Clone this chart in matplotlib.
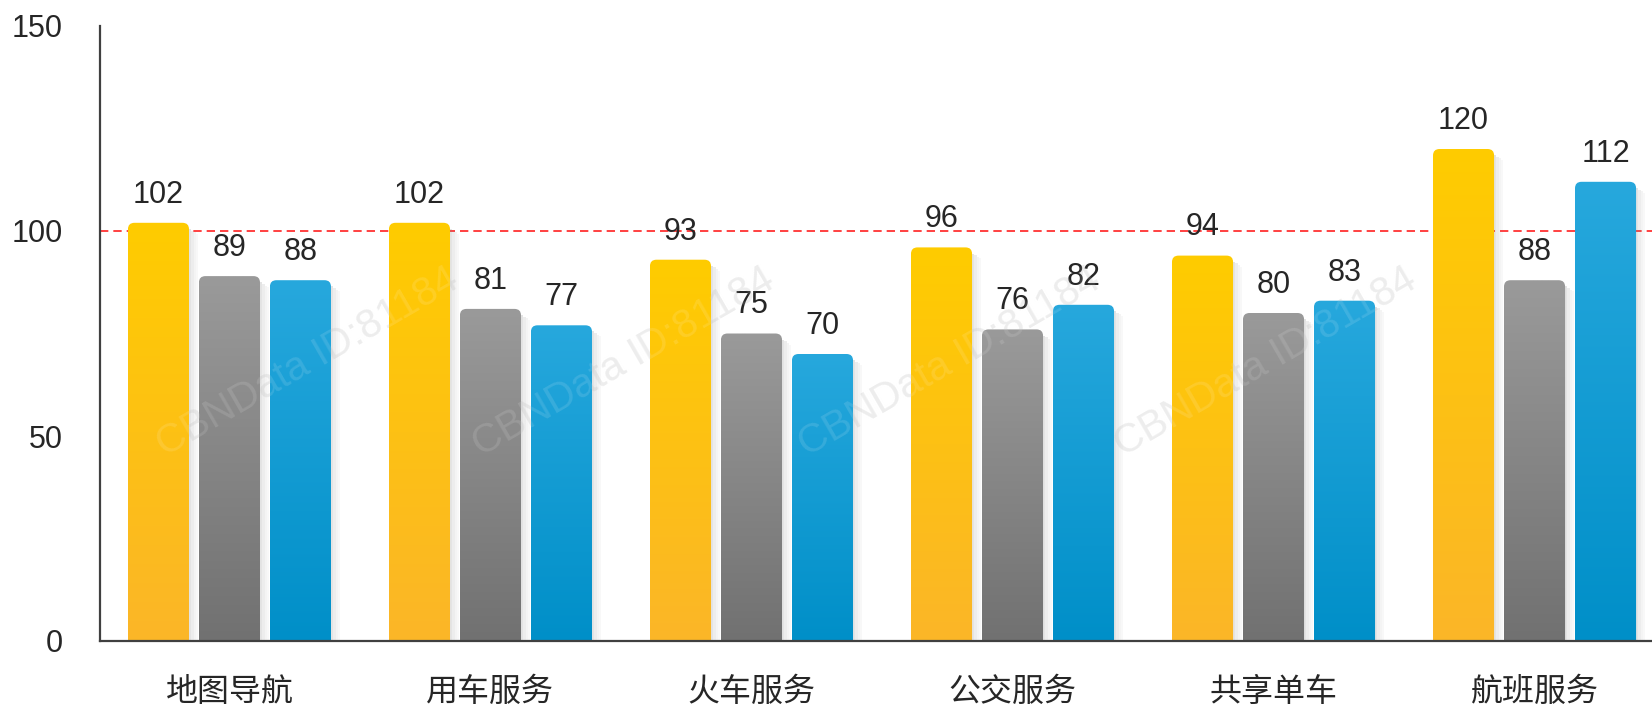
import numpy as np
import matplotlib
matplotlib.use("Agg")
import matplotlib.pyplot as plt
from matplotlib.patches import FancyBboxPatch, Rectangle
from matplotlib.colors import LinearSegmentedColormap

categories = ["地图导航", "用车服务", "火车服务", "公交服务", "共享单车", "航班服务"]
series_a = [102, 102, 93, 96, 94, 120]   # yellow
series_b = [89, 81, 75, 76, 80, 88]      # gray
series_c = [88, 77, 70, 82, 83, 112]     # blue
ref_value = 100
y_ticks = [0, 50, 100, 150]

# gradient (top, bottom) for each series
grads = [("#FFCC00", "#FBB628"), ("#9A9A9A", "#717171"), ("#27A8DD", "#008FC8")]

plt.rcParams["font.family"] = ["Liberation Sans", "Noto Sans CJK SC", "DejaVu Sans"]

fig = plt.figure(figsize=(16.52, 7.05), dpi=100)
ax = fig.add_axes([100 / 1652, 64 / 705, 1 - 100 / 1652, (641 - 26) / 705])

# watermark (only the copies that sit fully inside the picture)
wm_x = [169, 485, 811, 1127]
wm_y = 464
for xx in wm_x:
    fig.text(xx / 1652, 1 - wm_y / 705, "CBNData ID:81184", fontsize=29,
             color="#ebebeb", rotation=30, rotation_mode="anchor",
             ha="left", va="bottom", zorder=-1)
    fig.text(xx / 1652, 1 - wm_y / 705, "CBNData ID:81184", fontsize=29,
             color="white", alpha=0.12, rotation=30, rotation_mode="anchor",
             ha="left", va="bottom", zorder=5)

x = np.arange(len(categories))
width = 0.234
offset = 0.272
ax.set_xlim(-0.496, 5.45)
ax.set_ylim(0, 150)

ax.axhline(ref_value, color="#FF2020", lw=1.2, ls=(0, (5, 3)), zorder=1)

aspect = (150 / 615) / (1 / 261)
for i, vals in enumerate([series_a, series_b, series_c]):
    bars = ax.bar(x + (i - 1) * offset, vals, width, color="none", zorder=2)
    cmap = LinearSegmentedColormap.from_list("g%d" % i, [grads[i][1], grads[i][0]])
    for b, v in zip(bars, vals):
        x0, w, h = b.get_x(), b.get_width(), b.get_height()
        # soft shadow on the right
        for k, a in enumerate([0.22, 0.15, 0.09, 0.05]):
            ax.add_patch(Rectangle((x0 + w + k * 0.009, 0), 0.009, h - 1.5 - k * 0.4,
                                   facecolor="#888888", alpha=a, lw=0, zorder=1.5))
        clip = FancyBboxPatch((x0, -3), w, h + 3,
                              boxstyle="round,pad=0,rounding_size=0.025",
                              mutation_aspect=aspect, facecolor="none",
                              edgecolor="none", transform=ax.transData)
        ax.add_patch(clip)
        grad = np.linspace(0, 1, 256).reshape(-1, 1)
        im = ax.imshow(grad, cmap=cmap, origin="lower", aspect="auto",
                       extent=(x0, x0 + w, 0, h), zorder=2)
        im.set_clip_path(clip)
        ax.text(x0 + w / 2, h + 3.2, str(v), ha="center", va="bottom",
                fontsize=22, color="#262626", zorder=3)

ax.set_xlim(-0.496, 5.45)
ax.set_ylim(0, 150)
ax.set_xticks(x)
ax.set_xticklabels(categories, fontsize=23, color="#262626",
                   family=["Noto Sans CJK SC", "DejaVu Sans"])
ax.set_yticks(y_ticks)
ax.set_yticklabels([str(t) for t in y_ticks], fontsize=22, color="#262626")
ax.tick_params(axis="x", length=0, pad=25)
ax.tick_params(axis="y", length=0, pad=27)

for s in ["top", "right"]:
    ax.spines[s].set_visible(False)
for s in ["left", "bottom"]:
    ax.spines[s].set_color("#404040")
    ax.spines[s].set_linewidth(1.6)
    ax.spines[s].set_zorder(4)
ax.patch.set_alpha(0)

fig.savefig("out.png", dpi=100)
